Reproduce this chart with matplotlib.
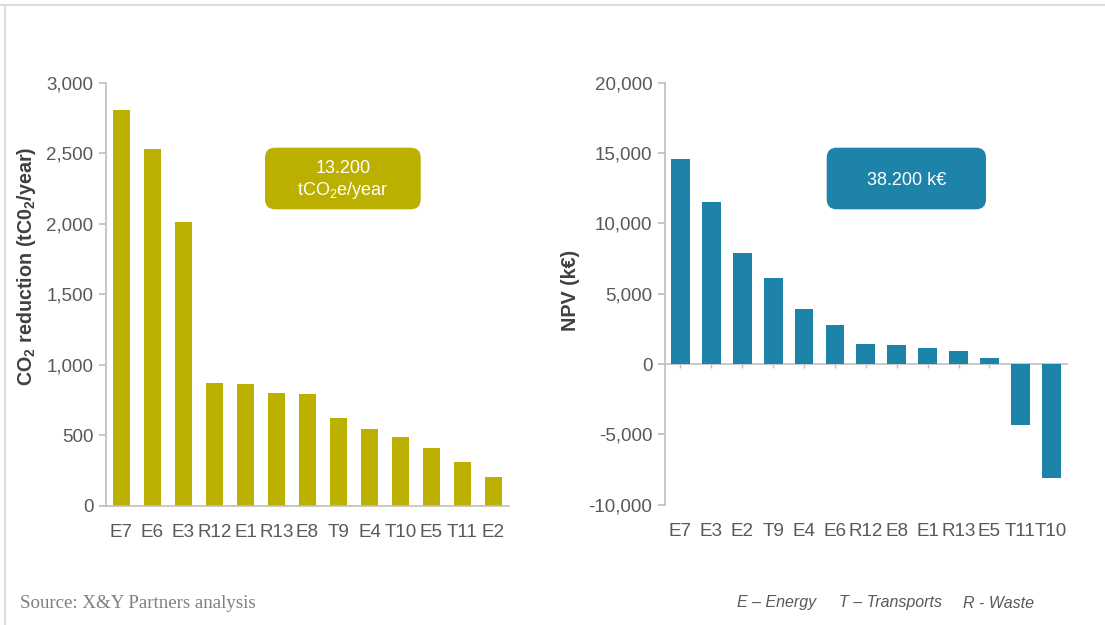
import numpy as np
import matplotlib.pyplot as plt
from matplotlib.patches import FancyBboxPatch
from matplotlib.lines import Line2D

plt.rcParams['font.family'] = ['Liberation Sans', 'DejaVu Sans']
plt.rcParams['mathtext.fontset'] = 'custom'
plt.rcParams['mathtext.rm'] = 'Liberation Sans'
plt.rcParams['mathtext.bf'] = 'Liberation Sans:bold'

### data
co2_labels = ['E7', 'E6', 'E3', 'R12', 'E1', 'R13', 'E8', 'T9', 'E4', 'T10', 'E5', 'T11', 'E2']
co2_values = [2805, 2530, 2015, 868, 860, 800, 790, 622, 546, 485, 407, 311, 207]

npv_labels = ['E7', 'E3', 'E2', 'T9', 'E4', 'E6', 'R12', 'E8', 'E1', 'R13', 'E5', 'T11', 'T10']
npv_values = [14550, 11550, 7900, 6150, 3950, 2800, 1400, 1330, 1170, 900, 400, -4350, -8100]

co2_total = '13.200\ntCO$\\mathregular{_2}$e/year'
npv_total = '38.200 k€'

olive = '#bbaf00'
blue = '#1d83a8'
grey_txt = '#595959'
grey_line = '#bfbfbf'

fig = plt.figure(figsize=(11.05, 6.25), dpi=100)

def style_axes(ax, labels):
  ax.set_xlim(-0.5, len(labels) - 0.5)
  ax.set_xticks(np.arange(len(labels)))
  ax.set_xticklabels(labels)
  ax.spines['top'].set_visible(False)
  ax.spines['right'].set_visible(False)
  ax.spines['left'].set_color(grey_line)
  ax.spines['left'].set_linewidth(1.2)
  ax.tick_params(axis='y', colors=grey_line, labelcolor=grey_txt, labelsize=13.5,
                 length=5, width=1.2, pad=4)
  ax.tick_params(axis='x', length=0, labelcolor=grey_txt, labelsize=13.6, pad=13)
  ax.yaxis.set_major_formatter(plt.FuncFormatter(lambda v, p: '{:,.0f}'.format(v)))

### left: CO2 reduction
ax1 = fig.add_axes([0.0959, 0.1909, 0.3647, 0.6768])
x1 = np.arange(len(co2_labels))
ax1.bar(x1, co2_values, width=0.54, color=olive, zorder=2)
style_axes(ax1, co2_labels)
ax1.set_ylim(0, 3000)
ax1.set_yticks(np.arange(0, 3001, 500))
ax1.spines['bottom'].set_color(grey_line)
ax1.spines['bottom'].set_linewidth(1.2)
ax1.set_ylabel('CO$\\mathregular{_2}$ reduction (tC0$\\mathregular{_2}$/year)',
               fontsize=14.2, fontweight='bold', color='#404040')
ax1.yaxis.set_label_coords(-0.169, 0.567)

### right: NPV
ax2 = fig.add_axes([0.6018, 0.1925, 0.3635, 0.675])
x2 = np.arange(len(npv_labels))
ax2.bar(x2, npv_values, width=0.61, color=blue, zorder=3)
style_axes(ax2, npv_labels)
ymin, ymax = -10000, 20000
ax2.set_ylim(ymin, ymax)
ax2.set_yticks(np.arange(ymin, ymax + 1, 5000))
ax2.spines['bottom'].set_visible(False)
ax2.set_ylabel('NPV (k€)', fontsize=14.2, fontweight='bold', color='#404040')
ax2.yaxis.set_label_coords(-0.212, 0.509)

# zero line with small ticks
zero = ax2.secondary_xaxis((0 - ymin) / (ymax - ymin))
zero.set_xticks(x2)
zero.set_xticklabels([])
zero.spines['bottom'].set_color(grey_line)
zero.spines['bottom'].set_linewidth(1.2)
zero.tick_params(axis='x', direction='out', length=3, width=1, colors=grey_line)

### total boxes (inches)
for (bx, by, bw, bh), txt, col in [((2.65, 4.157, 1.557, 0.616), co2_total, olive),
                                   ((8.267, 4.157, 1.593, 0.616), npv_total, blue)]:
  box = FancyBboxPatch((bx, by), bw, bh, boxstyle='round,pad=0,rounding_size=0.1',
                       transform=fig.dpi_scale_trans, facecolor=col, edgecolor='none')
  fig.patches.append(box)
  fig.text(bx + bw / 2, by + bh / 2 - 0.02, txt, transform=fig.dpi_scale_trans,
           ha='center', va='center', color='white', fontsize=13, linespacing=1.25)

### footer
fig.text(20 / 1105, 0.0352, 'Source: X&Y Partners analysis', family='Liberation Serif',
         fontsize=13.6, color='#7f7f7f', va='center')
for xp, txt in [(737, 'E – Energy'), (839, 'T – Transports'), (963, 'R - Waste')]:
  fig.text(xp / 1105, 0.0352, txt, fontsize=11.5, style='italic', color=grey_txt, va='center')

# light frame on top/left
fig.add_artist(Line2D([0, 1], [1 - 5 / 625] * 2, transform=fig.transFigure, color='#dddddd', lw=1.5))
fig.add_artist(Line2D([5 / 1105] * 2, [0, 1 - 5 / 625], transform=fig.transFigure, color='#dddddd', lw=1.5))

plt.savefig('out.png', dpi=100)
